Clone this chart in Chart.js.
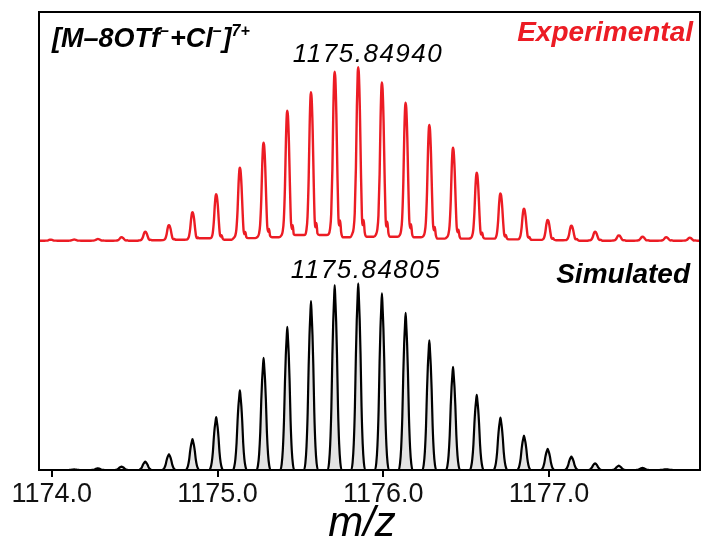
<!DOCTYPE html>
<html>
<head>
<meta charset="utf-8">
<script src="https://cdn.jsdelivr.net/npm/chart.js@4.4.1/dist/chart.umd.min.js"></script>
<style>
  html, body { margin: 0; padding: 0; background: #fff; }
  #wrap { width: 701px; height: 542px; }
</style>
</head>
<body>
<div id="wrap"><canvas id="spectrum" width="701" height="542"></canvas></div>
<script>
/* Isotope pattern of [M-8OTf+Cl]7+, peaks every 1/7 m/z */
const peakMz = [
  1173.992, 1174.135, 1174.278, 1174.421, 1174.564, 1174.707, 1174.849,
  1174.992, 1175.135, 1175.278, 1175.421, 1175.564, 1175.707, 1175.849,
  1175.992, 1176.135, 1176.278, 1176.421, 1176.564, 1176.707, 1176.849,
  1176.992, 1177.135, 1177.278, 1177.421, 1177.564, 1177.707, 1177.849,
];
const experimentalIntensity = [
  0.6, 0.7, 1.0, 2.0, 5.2, 9.0, 16.4, 26.8, 42.1, 56.5, 75.0, 85.6, 97.5, 100,
  91.3, 79.6, 66.7, 53.6, 39.2, 27.3, 18.5, 12.0, 8.7, 5.2, 3.1, 2.3, 2.0, 1.7,
];
const simulatedIntensity = [
  0, 0.3, 0.9, 1.8, 4.5, 8.4, 16.5, 28.3, 42.6, 60.0, 76.7, 90.5, 99.0, 100,
  94.6, 84.2, 69.5, 55.2, 40.3, 28.1, 18.4, 11.3, 7.2, 3.6, 2.3, 1.1, 0.4, 0,
];
// baseline noise level between neighbouring experimental peaks
const experimentalValleys = [
  0, 0, 0, 0, 0.3, 0.6, 1.4, 0.6, 1.5, 2.0, 3.3, 3.3, 2.0,
  2.3, 2.3, 2.0, 1.2, 1.2, 1.2, 0.8, 0.5, 0.3, 0, 0, 0, 0, 0,
];
// peak profiles: [m/z offset, fraction of peak height]
const experimentalShape = [
  [-0.050, 0], [-0.036, 0.04], [-0.028, 0.07], [-0.021, 0.16], [-0.014, 0.42],
  [-0.008, 0.78], [-0.003, 0.97], [0, 1], [0.004, 0.96], [0.010, 0.75],
  [0.016, 0.42], [0.022, 0.15], [0.028, 0.09], [0.033, 0.12], [0.039, 0.05], [0.050, 0],
];
const simulatedShape = [
  [-0.042, 0], [-0.034, 0.04], [-0.027, 0.14], [-0.020, 0.34], [-0.014, 0.62],
  [-0.009, 0.8], [-0.004, 0.92], [0, 1], [0.004, 0.92], [0.009, 0.8],
  [0.014, 0.62], [0.020, 0.34], [0.027, 0.14], [0.034, 0.04], [0.042, 0],
];
const xTicks = [1174.0, 1175.0, 1176.0, 1177.0];
const mzRange = [1173.923, 1177.911];
const simulatedStart = 1174.06;

const FONT = "'Liberation Sans', Arial, Helvetica, sans-serif";
const RED = '#ec1c24';

function buildProfile(heights, shape, valleys, start, end) {
  const pts = [{ x: start, y: 0 }];
  peakMz.forEach((mz, i) => {
    const h = heights[i];
    const leftBase = valleys && i > 0 ? valleys[i - 1] : 0;
    const rightBase = valleys && i < valleys.length ? valleys[i] : 0;
    if (h > 0) {
      shape.forEach(([dx, f]) => {
        const base = dx < 0 ? leftBase : rightBase;
        pts.push({ x: mz + dx, y: Math.max(h * f, base) });
      });
    }
    if (i < peakMz.length - 1) {
      pts.push({ x: (mz + peakMz[i + 1]) / 2, y: valleys ? valleys[i] : 0 });
    }
  });
  pts.push({ x: end, y: 0 });
  return pts.filter((p) => p.x >= start && p.x <= end).sort((a, b) => a.x - b.x);
}

/* Frame around the plot and the labels */
const framePlugin = {
  id: 'frame',
  afterDraw(chart) {
    const { ctx, chartArea: a } = chart;
    ctx.save();
    ctx.strokeStyle = '#000';
    ctx.lineWidth = 2;
    ctx.strokeRect(a.left, a.top, a.right - a.left, a.bottom - a.top);

    ctx.textBaseline = 'alphabetic';

    // ion formula with superscripts
    const parts = [
      ['[M–8OTf', false], ['–', true], ['+Cl', false], ['–', true], [']', false], ['7+', true],
    ];
    let x = 52;
    parts.forEach(([t, sup]) => {
      ctx.font = sup ? `italic bold 16px ${FONT}` : `italic bold 27px ${FONT}`;
      ctx.fillStyle = '#000';
      ctx.textAlign = 'left';
      ctx.fillText(t, x, sup ? 36 : 47);
      x += ctx.measureText(t).width + (sup ? 1 : 0);
    });

    ctx.font = `italic bold 28px ${FONT}`;
    ctx.textAlign = 'right';
    ctx.fillStyle = RED;
    ctx.fillText('Experimental', 693, 41);
    ctx.fillStyle = '#000';
    ctx.fillText('Simulated', 690, 283);

    ctx.font = `italic 26px ${FONT}`;
    ctx.textAlign = 'center';
    ctx.letterSpacing = '1.5px';
    ctx.fillText('1175.84940', 368, 62);
    ctx.fillText('1175.84805', 366, 278);
    ctx.letterSpacing = '0px';

    ctx.font = `italic 42px ${FONT}`;
    ctx.fillText('m/z', 362, 536);
    ctx.restore();
  },
};

new Chart(document.getElementById('spectrum'), {
  type: 'line',
  data: {
    datasets: [
      {
        label: 'Experimental',
        data: buildProfile(experimentalIntensity, experimentalShape, experimentalValleys, mzRange[0], mzRange[1]),
        yAxisID: 'yExp',
        borderColor: RED,
        borderWidth: 2.4,
        pointRadius: 0,
        fill: false,
        cubicInterpolationMode: 'monotone',
      },
      {
        label: 'Simulated',
        data: buildProfile(simulatedIntensity, simulatedShape, null, simulatedStart, mzRange[1]),
        yAxisID: 'ySim',
        borderColor: '#000',
        borderWidth: 2.2,
        backgroundColor: '#e4e4e4',
        pointRadius: 0,
        fill: 'origin',
        cubicInterpolationMode: 'monotone',
      },
    ],
  },
  options: {
    responsive: false,
    animation: false,
    devicePixelRatio: 1,
    layout: { padding: { left: 39, right: 1, top: 12, bottom: 0 } },
    plugins: { legend: { display: false }, tooltip: { enabled: false } },
    scales: {
      x: {
        type: 'linear',
        min: mzRange[0],
        max: mzRange[1],
        afterBuildTicks: (s) => { s.ticks = xTicks.map((v) => ({ value: v })); },
        afterFit: (s) => { s.height = 72; },
        ticks: {
          callback: (v) => v.toFixed(1),
          font: { family: FONT, size: 27 },
          color: '#111',
          padding: 1,
          maxRotation: 0,
          autoSkip: false,
        },
        grid: { drawOnChartArea: false, tickLength: 7, color: '#000', lineWidth: 2 },
        border: { display: false },
      },
      yExp: { display: false, min: -132.2, max: 131.9 },
      ySim: { display: false, min: 0, max: 245.3 },
    },
  },
  plugins: [framePlugin],
});
</script>
</body>
</html>
